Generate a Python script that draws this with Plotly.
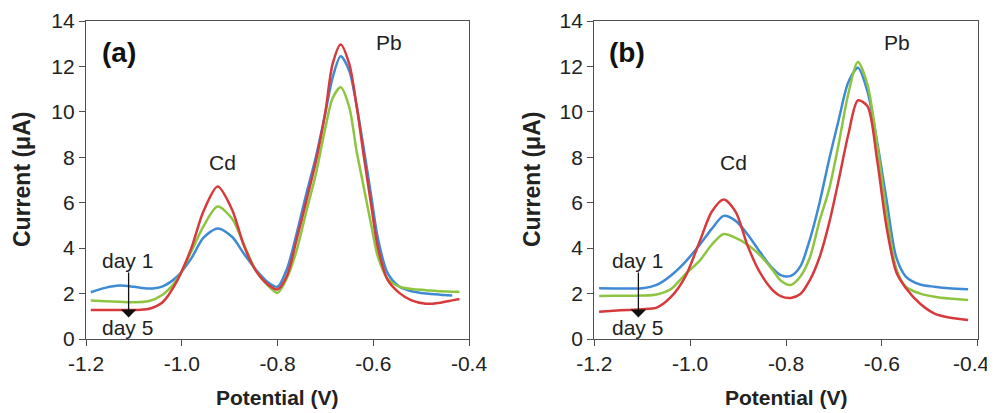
import plotly.graph_objects as go
from plotly.subplots import make_subplots

# ---------------- data ----------------
potential_a = [-1.19, -1.16, -1.13, -1.10, -1.07, -1.04, -1.01, -0.98, -0.955, -0.925,
               -0.895, -0.87, -0.845, -0.82, -0.80, -0.78, -0.76, -0.74, -0.72, -0.70,
               -0.685, -0.668, -0.65, -0.635, -0.62, -0.605, -0.59, -0.57, -0.545, -0.52,
               -0.49, -0.46, -0.435, -0.42]
current_a_blue = [2.06, 2.25, 2.35, 2.30, 2.22, 2.32, 2.74, 3.55, 4.45, 4.87,
                  4.50, 3.75, 3.05, 2.50, 2.30, 3.10, 4.64, 6.37, 8.00, 9.95,
                  11.5, 12.45, 11.8, 10.3, 8.40, 6.40, 4.40, 2.90, 2.30, 2.10,
                  2.00, 1.95, 1.92, None]
current_a_green = [1.69, 1.66, 1.64, 1.62, 1.66, 1.95, 2.62, 3.85, 4.95, 5.83,
                   5.30, 4.15, 3.00, 2.35, 2.03, 2.70, 3.90, 5.60, 7.25, 9.30,
                   10.6, 11.08, 10.2, 8.30, 6.70, 5.10, 3.60, 2.65, 2.30, 2.20,
                   2.15, 2.10, 2.08, 2.08]
current_a_red = [1.28, 1.28, 1.28, 1.28, 1.32, 1.62, 2.55, 4.00, 5.60, 6.71,
                 5.70, 4.10, 3.00, 2.40, 2.18, 2.80, 4.38, 6.06, 7.80, 10.0,
                 12.1, 12.97, 12.1, 10.3, 8.10, 6.00, 4.00, 2.60, 2.02, 1.70,
                 1.55, 1.60, 1.70, 1.76]

potential_b = [-1.19, -1.16, -1.13, -1.10, -1.07, -1.04, -1.01, -0.98, -0.955, -0.93,
               -0.905, -0.88, -0.855, -0.83, -0.81, -0.79, -0.77, -0.75, -0.73, -0.71,
               -0.69, -0.67, -0.65, -0.63, -0.61, -0.59, -0.57, -0.55, -0.52, -0.49,
               -0.46, -0.42]
current_b_blue = [2.23, 2.22, 2.22, 2.23, 2.38, 2.80, 3.40, 4.15, 4.85, 5.42,
                  5.20, 4.60, 3.85, 3.15, 2.80, 2.78, 3.20, 4.40, 6.00, 7.90,
                  9.65, 11.3, 11.94, 10.9, 8.70, 6.10, 3.60, 2.75, 2.40, 2.30,
                  2.23, 2.19]
current_b_green = [1.89, 1.90, 1.90, 1.91, 1.96, 2.20, 2.85, 3.45, 4.15, 4.62,
                   4.45, 4.15, 3.70, 3.10, 2.55, 2.38, 2.75, 3.60, 5.20, 6.60,
                   8.60, 10.8, 12.19, 11.2, 8.60, 5.50, 3.10, 2.30, 2.00, 1.86,
                   1.78, 1.72]
current_b_red = [1.20, 1.24, 1.28, 1.31, 1.38, 1.85, 2.75, 4.30, 5.60, 6.14,
                 5.60, 4.10, 2.95, 2.20, 1.88, 1.81, 1.98, 2.60, 3.60, 5.10,
                 7.00, 9.00, 10.5, 10.25, 7.90, 4.90, 2.95, 2.25, 1.55, 1.12,
                 0.95, 0.84]

x_tick_vals = [-1.2, -1.0, -0.8, -0.6, -0.4]
x_tick_text = ["-1.2", "-1.0", "-0.8", "-0.6", "-0.4"]
y_tick_vals = [0, 2, 4, 6, 8, 10, 12, 14]

panel_labels = ["(a)", "(b)"]
peak_labels = ["Cd", "Pb"]
day_labels = ["day 1", "day 5"]
x_title = "Potential (V)"
y_title = "Current (μA)"

BLUE = "#3f8ad4"
GREEN = "#8dc540"
RED = "#d63a3c"
FONT = "Arial, Liberation Sans, sans-serif"

fig = make_subplots(rows=1, cols=2)

panels = [
    (1, potential_a, [(current_a_blue, BLUE), (current_a_green, GREEN), (current_a_red, RED)]),
    (2, potential_b, [(current_b_blue, BLUE), (current_b_green, GREEN), (current_b_red, RED)]),
]
for col, xs, series in panels:
    for ys, color in series:
        fig.add_trace(go.Scatter(x=xs, y=ys, mode="lines",
                                 line=dict(color=color, width=2.5, shape="spline", smoothing=0.8),
                                 connectgaps=False, showlegend=False, hoverinfo="skip"),
                      row=1, col=col)

# page is offset by the 8px body margin; work in figure pixels
W, H = 995, 405
TOP, BOT = 13, 331.5
dom_a = [78 / W, 461 / W]
dom_b = [586.3 / W, 969.7 / W]
PH = BOT - TOP

axis_common = dict(showline=True, linecolor="#505050", linewidth=1.3, mirror=True,
                   ticks="outside", ticklen=6, tickwidth=1.3, tickcolor="#505050",
                   showgrid=False, zeroline=False, automargin=False,
                   tickfont=dict(family=FONT, size=21, color="#222"))

fig.update_xaxes(range=[-1.2, -0.4], tickvals=x_tick_vals,
                 ticklabeloverflow="allow", **axis_common)
fig.update_yaxes(range=[0, 14], tickvals=y_tick_vals, **axis_common)
# the last label of the right panel sits at the page edge; it is drawn as an annotation below
fig.update_layout(xaxis=dict(domain=dom_a, ticktext=x_tick_text),
                  xaxis2=dict(domain=dom_b, ticktext=x_tick_text[:-1] + [""]),
                  yaxis=dict(domain=[0, 1]), yaxis2=dict(domain=[0, 1]))

annotations = [dict(x=x_tick_vals[-1], y=(BOT - 356) / PH, xref="x2", yref="paper",
                    text=x_tick_text[-1], showarrow=False, xshift=-6,
                    font=dict(family=FONT, size=21, color="#222"),
                    xanchor="center", yanchor="middle")]
for i, (xr, yr) in enumerate([("x", "y"), ("x2", "y2")]):
    annotations.append(dict(x=-1.131, y=12.6, xref=xr, yref=yr, text="<b>%s</b>" % panel_labels[i],
                            showarrow=False, font=dict(family=FONT, size=28, color="#111")))
    cd_x = -0.914 if i == 0 else -0.909
    annotations.append(dict(x=cd_x, y=7.75, xref=xr, yref=yr, text=peak_labels[0],
                            showarrow=False, font=dict(family=FONT, size=21, color="#222")))
    annotations.append(dict(x=-0.568, y=13.05, xref=xr, yref=yr, text=peak_labels[1],
                            showarrow=False, font=dict(family=FONT, size=21, color="#222")))
    dx_day = -1.113 if i == 0 else -1.110
    annotations.append(dict(x=dx_day, y=3.45, xref=xr, yref=yr, text=day_labels[0],
                            showarrow=False, font=dict(family=FONT, size=21, color="#222")))
    annotations.append(dict(x=dx_day, y=0.5, xref=xr, yref=yr, text=day_labels[1],
                            showarrow=False, font=dict(family=FONT, size=21, color="#222")))
    ax_x = -1.111 if i == 0 else -1.108
    annotations.append(dict(x=ax_x, y=0.95, ax=ax_x, ay=2.99, xref=xr, yref=yr,
                            axref=xr, ayref=yr, text="", showarrow=True,
                            arrowhead=1, arrowsize=2.0, arrowwidth=1.3, arrowcolor="#111"))

# axis titles
for dom, ytx in [(dom_a, 14), (dom_b, 524)]:
    annotations.append(dict(x=(dom[0] + dom[1]) / 2, y=(BOT - 390) / PH, xref="paper", yref="paper",
                            text="<b>%s</b>" % x_title, showarrow=False,
                            font=dict(family=FONT, size=21, color="#222"),
                            xanchor="center", yanchor="middle"))
    annotations.append(dict(x=ytx / W, y=0.5, xref="paper", yref="paper",
                            text="<b>%s</b>" % y_title, showarrow=False, textangle=-90,
                            font=dict(family=FONT, size=23, color="#222"),
                            xanchor="center", yanchor="middle"))

fig.update_layout(width=W, height=H, margin=dict(l=0, r=0, t=TOP, b=H - BOT, pad=0),
                  paper_bgcolor="white", plot_bgcolor="white",
                  annotations=annotations, showlegend=False)

fig.write_html("out.html")
